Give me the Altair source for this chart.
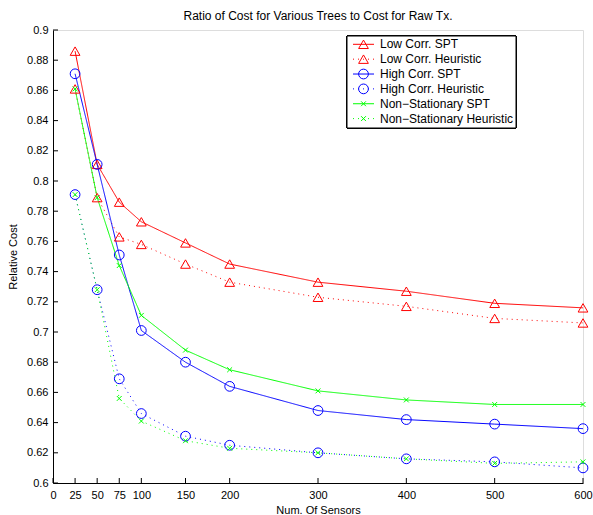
import altair as alt
import pandas as pd

sensors = [25, 50, 75, 100, 150, 200, 300, 400, 500, 600]
low_spt = [0.886, 0.811, 0.786, 0.773, 0.759, 0.745, 0.733, 0.727, 0.719, 0.716]
low_heur = [0.861, 0.789, 0.763, 0.758, 0.745, 0.733, 0.723, 0.717, 0.709, 0.706]
high_spt = [0.871, 0.811, 0.751, 0.701, 0.680, 0.664, 0.648, 0.642, 0.639, 0.636]
high_heur = [0.791, 0.728, 0.669, 0.646, 0.631, 0.625, 0.620, 0.616, 0.614, 0.610]
ns_spt = [0.861, 0.789, 0.744, 0.711, 0.688, 0.675, 0.661, 0.655, 0.652, 0.652]
ns_heur = [0.791, 0.728, 0.656, 0.641, 0.628, 0.623, 0.620, 0.616, 0.613, 0.614]

names = ["Low Corr. SPT", "Low Corr. Heuristic", "High Corr. SPT",
         "High Corr. Heuristic", "Non\u2212Stationary SPT", "Non\u2212Stationary Heuristic"]
values = [low_spt, low_heur, high_spt, high_heur, ns_spt, ns_heur]

x_ticks = [0, 25, 50, 75, 100, 150, 200, 300, 400, 500, 600]
y_ticks = [0.6, 0.62, 0.64, 0.66, 0.68, 0.7, 0.72, 0.74, 0.76, 0.78, 0.8,
           0.82, 0.84, 0.86, 0.88, 0.9]

colors = ["#ff0000", "#ff0000", "#0000ff", "#0000ff", "#00ff00", "#00ff00"]
dashes = [[1, 0], [1, 4], [1, 0], [1, 4], [1, 0], [1, 4]]
xmark = "M-0.5,-0.5L0.5,0.5M-0.5,0.5L0.5,-0.5"
shapes = ["triangle-up", "triangle-up", "circle", "circle", xmark, xmark]
sizes = [95, 95, 66, 66, 30, 30]

rows = []
for n, vals in zip(names, values):
    for s, v in zip(sensors, vals):
        rows.append({"series": n, "sensors": s, "cost": v})
df = pd.DataFrame(rows)
leg = pd.DataFrame({"series": names})
xt = pd.DataFrame({"t": x_ticks})
yt = pd.DataFrame({"t": y_ticks})

W, H = 530, 453
FONT = "Liberation Sans"

xscale = alt.Scale(domain=[0, 600], nice=False, zero=False)
yscale = alt.Scale(domain=[0.6, 0.9], nice=False, zero=False)
xaxis = alt.Axis(values=x_ticks, title="Num. Of Sensors", ticks=False, grid=False,
                 labelPadding=6, titlePadding=4, domainColor="black",
                 labelColor="black", titleColor="black", labelFontSize=11,
                 titleFontSize=11, labelFont=FONT, titleFont=FONT,
                 titleFontWeight="normal", labelFlush=False)
yaxis = alt.Axis(values=y_ticks, title="Relative Cost", ticks=False, grid=False,
                 format=".2~f", labelPadding=5, titlePadding=8, domainColor="black",
                 labelColor="black", titleColor="black", labelFontSize=11,
                 titleFontSize=11, labelFont=FONT, titleFont=FONT,
                 titleFontWeight="normal", labelFlush=False)

color = alt.Color("series:N", scale=alt.Scale(domain=names, range=colors), legend=None)
dash = alt.StrokeDash("series:N", scale=alt.Scale(domain=names, range=dashes), legend=None)
shape = alt.Shape("series:N", scale=alt.Scale(domain=names, range=shapes), legend=None)
size = alt.Size("series:N", scale=alt.Scale(domain=names, range=sizes), legend=None)

X = alt.X("sensors:Q", scale=xscale, axis=xaxis)
Y = alt.Y("cost:Q", scale=yscale, axis=yaxis)

lines = alt.Chart(df).mark_line(strokeWidth=1).encode(x=X, y=Y, color=color, strokeDash=dash)
points = alt.Chart(df).mark_point(filled=False, strokeWidth=1, opacity=1).encode(
    x=X, y=Y, color=color, shape=shape, size=size)

xticks = alt.Chart(xt).mark_rule(color="black", strokeWidth=1).encode(
    x=alt.X("t:Q", scale=xscale, axis=xaxis), y=alt.value(H), y2=alt.value(H - 5))
yticks = alt.Chart(yt).mark_rule(color="black", strokeWidth=1).encode(
    y=alt.Y("t:Q", scale=yscale, axis=yaxis), x=alt.value(0), x2=alt.value(5))

main = alt.layer(lines, points, xticks, yticks)

ly = alt.Y("series:N", scale=alt.Scale(type="point", domain=names, range=[14.3, 88.6], padding=0), axis=None)
box = alt.Chart(leg).mark_rect(fill="white", stroke="black", strokeWidth=1).encode(
    x=alt.value(294), x2=alt.value(463), y=alt.value(6), y2=alt.value(98))
lsample = alt.Chart(leg).mark_rule(strokeWidth=1).encode(
    x=alt.value(300), x2=alt.value(321), y=ly, color=color, strokeDash=dash)
lpoint = alt.Chart(leg).mark_point(filled=False, strokeWidth=1, opacity=1).encode(
    x=alt.value(310.5), y=ly, color=color, shape=shape, size=size)
ltext = alt.Chart(leg).mark_text(align="left", baseline="middle", font=FONT,
                                 fontSize=12, color="black").encode(
    x=alt.value(327), y=ly, text="series:N")
legend = alt.layer(box, lsample, lpoint, ltext)

chart = alt.layer(main, legend).resolve_scale(y="independent").properties(
    width=W, height=H,
    title=alt.TitleParams("Ratio of Cost for Various Trees to Cost for Raw Tx.",
                          font=FONT, fontSize=12, fontWeight="normal", color="black",
                          anchor="middle", offset=1),
    autosize=alt.AutoSizeParams(type="none"),
    padding={"left": 53, "top": 30, "right": 10, "bottom": 32},
).configure_view(stroke=None).configure(background="white")

chart.save("out.html", embed_options={"renderer": "svg", "actions": False})
